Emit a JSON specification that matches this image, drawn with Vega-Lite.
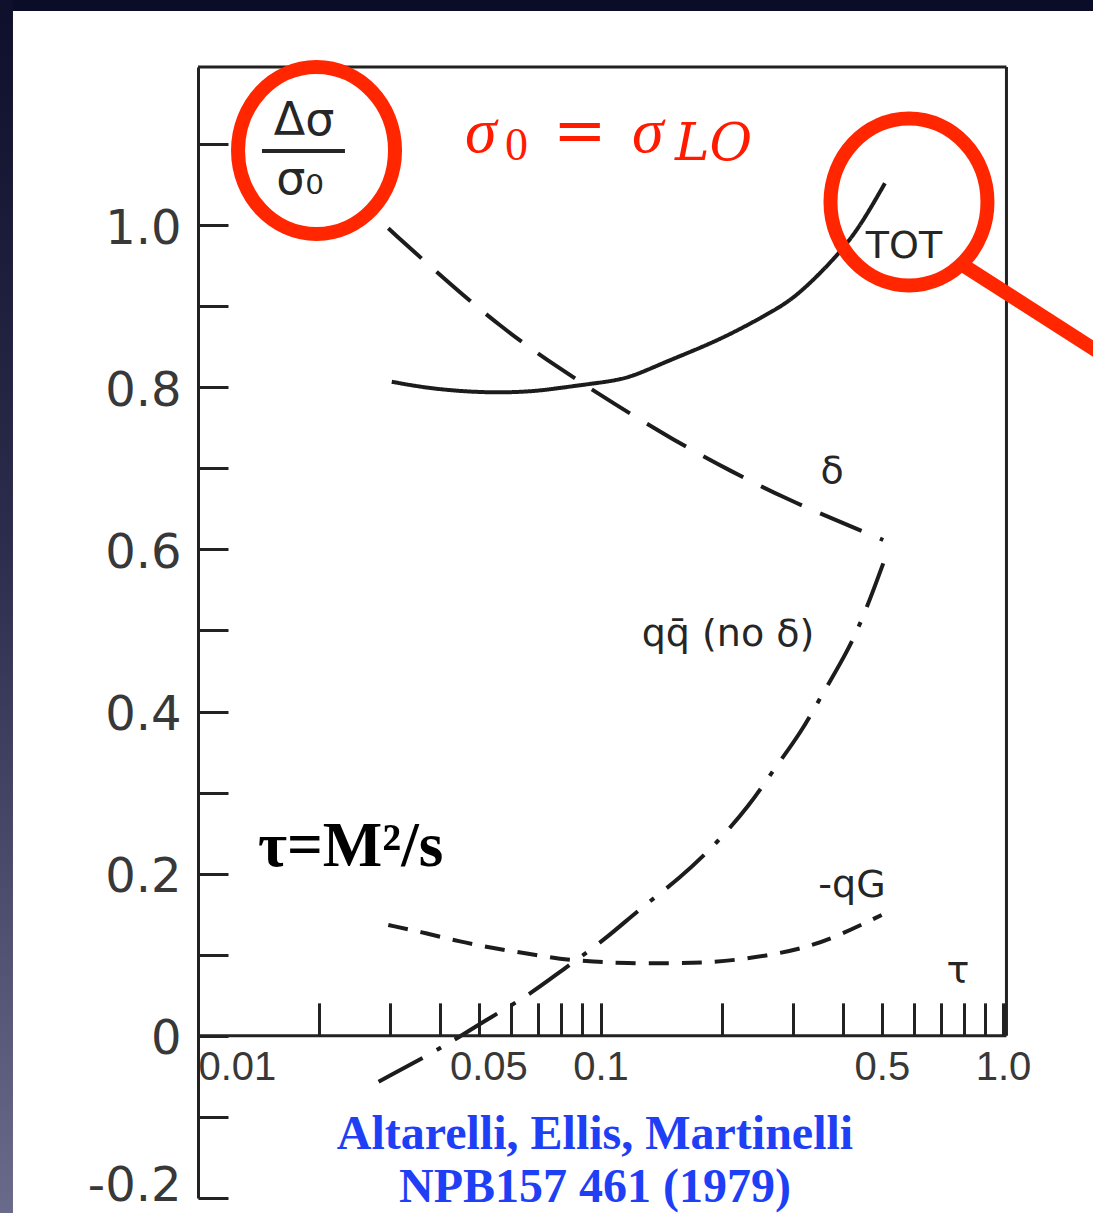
{
  "$schema": "https://vega.github.io/schema/vega-lite/v6.json",
  "width": 805,
  "height": 1131,
  "autosize": {"type": "none"},
  "padding": {"left": 198, "top": 67, "right": 90, "bottom": 15},
  "background": "#ffffff",
  "config": {"view": {"stroke": null}},
  "datasets": {
    "curves": [
      {"series": "TOT", "tau": 0.0303, "ratio": 0.8068},
      {"series": "TOT", "tau": 0.0370, "ratio": 0.7989},
      {"series": "TOT", "tau": 0.0493, "ratio": 0.7933},
      {"series": "TOT", "tau": 0.0656, "ratio": 0.7938},
      {"series": "TOT", "tau": 0.0793, "ratio": 0.7991},
      {"series": "TOT", "tau": 0.0924, "ratio": 0.8036},
      {"series": "TOT", "tau": 0.1118, "ratio": 0.8089},
      {"series": "TOT", "tau": 0.1253, "ratio": 0.8172},
      {"series": "TOT", "tau": 0.1488, "ratio": 0.8336},
      {"series": "TOT", "tau": 0.1981, "ratio": 0.8583},
      {"series": "TOT", "tau": 0.2637, "ratio": 0.8916},
      {"series": "TOT", "tau": 0.3073, "ratio": 0.9117},
      {"series": "TOT", "tau": 0.3862, "ratio": 0.9610},
      {"series": "TOT", "tau": 0.4413, "ratio": 0.9980},
      {"series": "TOT", "tau": 0.5089, "ratio": 1.0516},
      {"series": "delta", "tau": 0.0297, "ratio": 0.9960},
      {"series": "delta", "tau": 0.0407, "ratio": 0.9344},
      {"series": "delta", "tau": 0.0563, "ratio": 0.8747},
      {"series": "delta", "tau": 0.0778, "ratio": 0.8253},
      {"series": "delta", "tau": 0.1076, "ratio": 0.7802},
      {"series": "delta", "tau": 0.1517, "ratio": 0.7349},
      {"series": "delta", "tau": 0.2118, "ratio": 0.6958},
      {"series": "delta", "tau": 0.2873, "ratio": 0.6630},
      {"series": "delta", "tau": 0.4011, "ratio": 0.6322},
      {"series": "delta", "tau": 0.5041, "ratio": 0.6116},
      {"series": "qqbar", "tau": 0.0281, "ratio": -0.0566},
      {"series": "qqbar", "tau": 0.0423, "ratio": -0.0092},
      {"series": "qqbar", "tau": 0.0502, "ratio": 0.0155},
      {"series": "qqbar", "tau": 0.0656, "ratio": 0.0483},
      {"series": "qqbar", "tau": 0.0793, "ratio": 0.0791},
      {"series": "qqbar", "tau": 0.1036, "ratio": 0.1203},
      {"series": "qqbar", "tau": 0.1241, "ratio": 0.1552},
      {"series": "qqbar", "tau": 0.1576, "ratio": 0.1943},
      {"series": "qqbar", "tau": 0.1944, "ratio": 0.2375},
      {"series": "qqbar", "tau": 0.2351, "ratio": 0.2847},
      {"series": "qqbar", "tau": 0.2688, "ratio": 0.3279},
      {"series": "qqbar", "tau": 0.3161, "ratio": 0.3751},
      {"series": "qqbar", "tau": 0.3544, "ratio": 0.4204},
      {"series": "qqbar", "tau": 0.4089, "ratio": 0.4718},
      {"series": "qqbar", "tau": 0.4540, "ratio": 0.5212},
      {"series": "qqbar", "tau": 0.5041, "ratio": 0.5828},
      {"series": "qG", "tau": 0.0297, "ratio": 0.1367},
      {"series": "qG", "tau": 0.0370, "ratio": 0.1265},
      {"series": "qG", "tau": 0.0448, "ratio": 0.1161},
      {"series": "qG", "tau": 0.0542, "ratio": 0.1080},
      {"series": "qG", "tau": 0.0656, "ratio": 0.1018},
      {"series": "qG", "tau": 0.0793, "ratio": 0.0944},
      {"series": "qG", "tau": 0.0960, "ratio": 0.0915},
      {"series": "qG", "tau": 0.1162, "ratio": 0.0895},
      {"series": "qG", "tau": 0.1488, "ratio": 0.0895},
      {"series": "qG", "tau": 0.1800, "ratio": 0.0902},
      {"series": "qG", "tau": 0.2180, "ratio": 0.0935},
      {"series": "qG", "tau": 0.2637, "ratio": 0.0997},
      {"series": "qG", "tau": 0.3191, "ratio": 0.1080},
      {"series": "qG", "tau": 0.3862, "ratio": 0.1223},
      {"series": "qG", "tau": 0.4995, "ratio": 0.1491}
    ],
    "frame": [
      {"tau": 0.01, "tau2": 1.02, "ratio": 1.195, "ratio2": 1.195},
      {"tau": 1.02, "tau2": 1.02, "ratio": 0, "ratio2": 1.195},
      {"tau": 0.01, "tau2": 1.02, "ratio": 0, "ratio2": 0}
    ],
    "curveLabels": [
      {"text": "TOT", "tau": 0.5675, "ratio": 0.973},
      {"text": "δ", "tau": 0.376, "ratio": 0.6955},
      {"text": "qq̄ (no δ)", "tau": 0.2074, "ratio": 0.4944},
      {"text": "-qG", "tau": 0.4214, "ratio": 0.1848},
      {"text": "τ", "tau": 0.7731, "ratio": 0.0787}
    ],
    "ratioLabel": [
      {"text": "Δσ", "tau": 0.01834, "ratio": 1.128},
      {"text": "σ₀", "tau": 0.01792, "ratio": 1.056}
    ],
    "fractionBar": [
      {"tau": 0.01442, "tau2": 0.02318, "ratio": 1.0914}
    ],
    "highlights": [
      {"label": "ratio", "tau": 0.0197, "ratio": 1.092},
      {"label": "TOT", "tau": 0.584, "ratio": 1.0285}
    ],
    "pointer": [
      {"tau": 0.7731, "ratio": 0.9545, "tau2": 2.318, "ratio2": 0.8028}
    ],
    "normSigma": [
      {"t": "σ", "tau": 0.04605, "ratio": 1.0902},
      {"t": "σ", "tau": 0.1198, "ratio": 1.0902}
    ],
    "normEquals": [
      {"t": "=", "tau": 0.0762, "ratio": 1.0902}
    ],
    "normSubUpright": [
      {"t": "0", "tau": 0.05789, "ratio": 1.0803}
    ],
    "normSubItalic": [
      {"t": "LO", "tau": 0.1532, "ratio": 1.0803}
    ],
    "tauDef": [
      {"t": "τ=M²/s", "tau": 0.01409, "ratio": 0.2095}
    ],
    "reference": [
      {"t": "Altarelli, Ellis, Martinelli", "tau": 0.0969, "ratio": -0.1396},
      {"t": "NPB157 461 (1979)", "tau": 0.0969, "ratio": -0.2049}
    ]
  },
  "layer": [
    {
      "data": {"values": [{}]},
      "mark": {"type": "rect", "color": "#0b0c27"},
      "encoding": {
        "x": {"datum": 0.003, "type": "quantitative", "title": null},
        "x2": {"datum": 2},
        "y": {"datum": 1.2641, "type": "quantitative", "title": null},
        "y2": {"datum": 1.35}
      }
    },
    {
      "data": {"values": [{}]},
      "mark": {
        "type": "rect",
        "color": {
          "gradient": "linear",
          "x1": 0, "y1": 0, "x2": 0, "y2": 1,
          "stops": [
            {"offset": 0, "color": "#0b0c27"},
            {"offset": 0.45, "color": "#2c2d4c"},
            {"offset": 1, "color": "#707090"}
          ]
        }
      },
      "encoding": {
        "x": {"datum": 0.003, "type": "quantitative", "title": null},
        "x2": {"datum": 0.00347},
        "y": {"datum": -0.3, "type": "quantitative", "title": null},
        "y2": {"datum": 1.35}
      }
    },
    {
      "data": {"name": "curves"},
      "mark": {"type": "line", "color": "#1c1c1c", "strokeWidth": 4, "interpolate": "basis"},
      "encoding": {
        "x": {
          "field": "tau",
          "type": "quantitative",
          "scale": {"type": "log", "domain": [0.01, 1], "nice": false},
          "axis": {
            "title": null,
            "orient": "bottom",
            "offset": -162.14,
            "domain": false,
            "grid": false,
            "values": [0.01, 0.02, 0.03, 0.04, 0.05, 0.06, 0.07, 0.08, 0.09, 0.1, 0.2, 0.3, 0.4, 0.5, 0.6, 0.7, 0.8, 0.9, 1],
            "tickSize": -33,
            "tickWidth": 3,
            "tickColor": "#222222",
            "labelExpr": "datum.value == 1 ? '1.0' : ((datum.value == 0.01 || datum.value == 0.05 || datum.value == 0.1 || datum.value == 0.5) ? '' + datum.value : '')",
            "labelFont": "Liberation Sans",
            "labelFontSize": 40,
            "labelColor": "#383838",
            "labelPadding": 45,
            "labelOverlap": false,
            "labelBound": false,
            "labelFlush": false,
            "labelAlign": {"condition": {"test": "datum.value == 0.01", "value": "left"}, "value": "center"},
            "labelOffset": {"condition": {"test": "datum.value == 0.05", "value": 9}, "value": 0}
          }
        },
        "y": {
          "field": "ratio",
          "type": "quantitative",
          "scale": {"domain": [-0.2, 1.195], "nice": false, "zero": false},
          "axis": {
            "title": null,
            "orient": "left",
            "grid": false,
            "values": [-0.2, -0.1, 0, 0.1, 0.2, 0.3, 0.4, 0.5, 0.6, 0.7, 0.8, 0.9, 1, 1.1],
            "tickSize": -30,
            "tickWidth": 3,
            "tickColor": "#222222",
            "domainColor": "#222222",
            "domainWidth": 3,
            "labelExpr": "abs(round(datum.value * 10)) % 2 == 1 ? '' : (datum.value == 0 ? '0' : (datum.value < 0 ? '-' : '') + format(abs(datum.value), '.1f'))",
            "labelFont": "DejaVu Sans",
            "labelFontSize": 48,
            "labelColor": "#383838",
            "labelPadding": 47,
            "labelOffset": {"condition": {"test": "datum.value < -0.15", "value": -12}, "value": 4},
            "labelOverlap": false,
            "labelBound": false,
            "labelFlush": false
          }
        },
        "detail": {"field": "series"},
        "strokeDash": {
          "field": "series",
          "type": "nominal",
          "scale": {
            "domain": ["TOT", "delta", "qqbar", "qG"],
            "range": [[1, 0], [45, 20], [50, 16, 5, 16], [20, 13]]
          },
          "legend": null
        }
      }
    },
    {
      "data": {"name": "frame"},
      "mark": {"type": "rule", "color": "#222222", "strokeWidth": 3},
      "encoding": {
        "x": {"field": "tau", "type": "quantitative", "title": null},
        "x2": {"field": "tau2"},
        "y": {"field": "ratio", "type": "quantitative", "title": null},
        "y2": {"field": "ratio2"}
      }
    },
    {
      "data": {"name": "curveLabels"},
      "mark": {"type": "text", "font": "DejaVu Sans", "fontSize": 38, "color": "#262626", "align": "center", "baseline": "middle"},
      "encoding": {
        "x": {"field": "tau", "type": "quantitative", "title": null},
        "y": {"field": "ratio", "type": "quantitative", "title": null},
        "text": {"field": "text"}
      }
    },
    {
      "data": {"name": "ratioLabel"},
      "mark": {"type": "text", "font": "DejaVu Sans", "fontSize": 46, "color": "#262626", "align": "center", "baseline": "middle"},
      "encoding": {
        "x": {"field": "tau", "type": "quantitative", "title": null},
        "y": {"field": "ratio", "type": "quantitative", "title": null},
        "text": {"field": "text"}
      }
    },
    {
      "data": {"name": "fractionBar"},
      "mark": {"type": "rule", "color": "#262626", "strokeWidth": 4},
      "encoding": {
        "x": {"field": "tau", "type": "quantitative", "title": null},
        "x2": {"field": "tau2"},
        "y": {"field": "ratio", "type": "quantitative", "title": null}
      }
    },
    {
      "data": {"name": "pointer"},
      "mark": {"type": "rule", "color": "#ff2600", "strokeWidth": 14},
      "encoding": {
        "x": {"field": "tau", "type": "quantitative", "title": null},
        "x2": {"field": "tau2"},
        "y": {"field": "ratio", "type": "quantitative", "title": null},
        "y2": {"field": "ratio2"}
      }
    },
    {
      "data": {"name": "highlights"},
      "mark": {
        "type": "point",
        "shape": "M-0.94,0A0.94,1 0 1,1 0.94,0A0.94,1 0 1,1 -0.94,0Z",
        "size": 27889,
        "filled": false,
        "stroke": "#ff2600",
        "strokeWidth": 14,
        "opacity": 1
      },
      "encoding": {
        "x": {"field": "tau", "type": "quantitative", "title": null},
        "y": {"field": "ratio", "type": "quantitative", "title": null}
      }
    },
    {
      "data": {"name": "normSigma"},
      "mark": {"type": "text", "font": "Liberation Serif", "fontStyle": "italic", "fontSize": 64, "color": "#ff1a00", "align": "left", "baseline": "alphabetic"},
      "encoding": {
        "x": {"field": "tau", "type": "quantitative", "title": null},
        "y": {"field": "ratio", "type": "quantitative", "title": null},
        "text": {"field": "t"}
      }
    },
    {
      "data": {"name": "normEquals"},
      "mark": {"type": "text", "font": "DejaVu Serif", "fontSize": 64, "color": "#ff1a00", "align": "left", "baseline": "alphabetic"},
      "encoding": {
        "x": {"field": "tau", "type": "quantitative", "title": null},
        "y": {"field": "ratio", "type": "quantitative", "title": null},
        "text": {"field": "t"}
      }
    },
    {
      "data": {"name": "normSubUpright"},
      "mark": {"type": "text", "font": "Liberation Serif", "fontSize": 46, "color": "#ff1a00", "align": "left", "baseline": "alphabetic"},
      "encoding": {
        "x": {"field": "tau", "type": "quantitative", "title": null},
        "y": {"field": "ratio", "type": "quantitative", "title": null},
        "text": {"field": "t"}
      }
    },
    {
      "data": {"name": "normSubItalic"},
      "mark": {"type": "text", "font": "DejaVu Serif", "fontStyle": "italic", "fontSize": 52, "color": "#ff1a00", "align": "left", "baseline": "alphabetic"},
      "encoding": {
        "x": {"field": "tau", "type": "quantitative", "title": null},
        "y": {"field": "ratio", "type": "quantitative", "title": null},
        "text": {"field": "t"}
      }
    },
    {
      "data": {"name": "tauDef"},
      "mark": {"type": "text", "font": "Liberation Serif", "fontWeight": "bold", "fontSize": 63, "color": "#000000", "align": "left", "baseline": "alphabetic"},
      "encoding": {
        "x": {"field": "tau", "type": "quantitative", "title": null},
        "y": {"field": "ratio", "type": "quantitative", "title": null},
        "text": {"field": "t"}
      }
    },
    {
      "data": {"name": "reference"},
      "mark": {"type": "text", "font": "Liberation Serif", "fontWeight": "bold", "fontSize": 48, "color": "#1e3ff5", "align": "center", "baseline": "alphabetic"},
      "encoding": {
        "x": {"field": "tau", "type": "quantitative", "title": null},
        "y": {"field": "ratio", "type": "quantitative", "title": null},
        "text": {"field": "t"}
      }
    }
  ]
}
